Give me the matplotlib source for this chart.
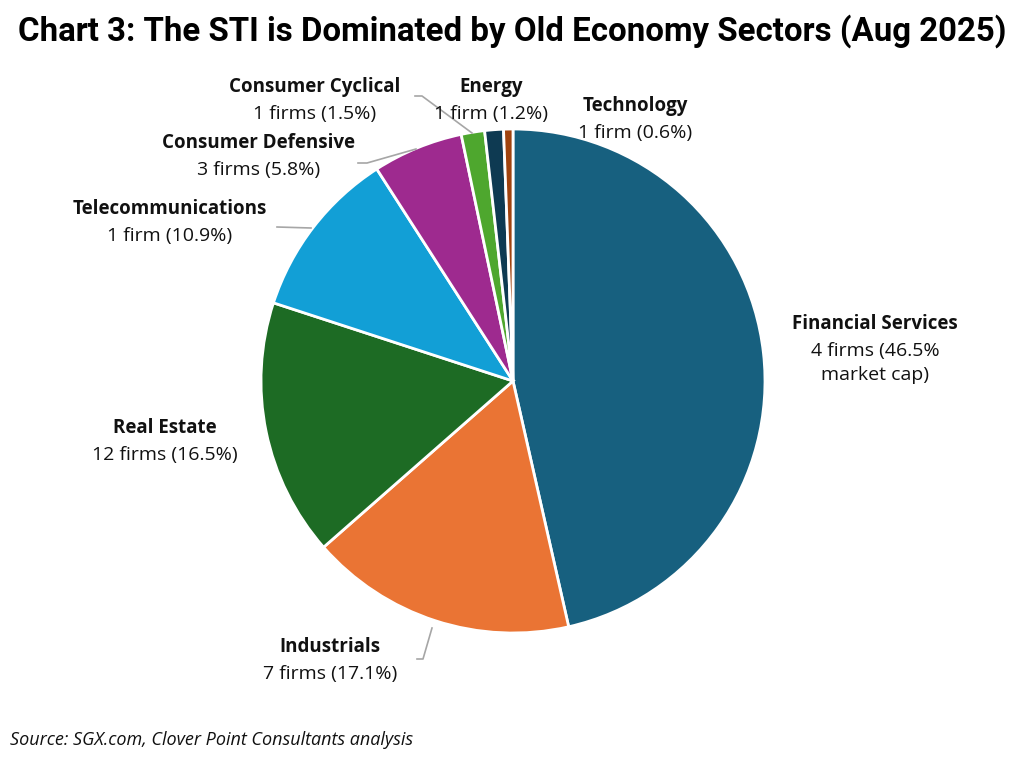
import matplotlib
matplotlib.use("Agg")
import matplotlib.pyplot as plt

sectors = ["Financial Services", "Industrials", "Real Estate", "Telecommunications",
           "Consumer Defensive", "Consumer Cyclical", "Energy", "Technology"]
shares = [46.5, 17.1, 16.5, 10.9, 5.8, 1.5, 1.2, 0.6]
firm_labels = ["4 firms (46.5%\nmarket cap)", "7 firms (17.1%)", "12 firms (16.5%)",
               "1 firm (10.9%)", "3 firms (5.8%)", "1 firms (1.5%)", "1 firm (1.2%)",
               "1 firm (0.6%)"]
colors = ["#17607F", "#EA7434", "#1D6B24", "#129FD6", "#9E2A8F", "#4EA72E", "#0E3A52", "#A0430E"]
title = "Chart 3: The STI is Dominated by Old Economy Sectors (Aug 2025)"
source = "Source: SGX.com, Clover Point Consultants analysis"

W, H = 1024, 762
fig = plt.figure(figsize=(W / 100, H / 100), dpi=100)
ax = fig.add_axes([0, 0, 1, 1])

cx, cy, R = 513, H - 381, 252
ax.pie(shares, colors=colors, startangle=90, counterclock=False, center=(cx, cy), radius=R,
       wedgeprops=dict(edgecolor="white", linewidth=2))
ax.set_xlim(0, W)
ax.set_ylim(0, H)
ax.set_aspect("equal")
ax.axis("off")

fam = ["Open Sans", "DejaVu Sans"]
pos = {
    "Financial Services": (875, 324),
    "Industrials": (330, 647),
    "Real Estate": (165, 428),
    "Telecommunications": (170, 209),
    "Consumer Defensive": (259, 143),
    "Consumer Cyclical": (315, 87),
    "Energy": (491, 87),
    "Technology": (635, 106),
}
for name, sub in zip(sectors, firm_labels):
    x, y = pos[name]
    ax.text(x, H - y, name, ha="center", va="center", fontsize=13.5, fontweight="bold",
            family=fam, color="#111111")
    ax.text(x, H - y - 18, sub, ha="center", va="top", fontsize=14, family=fam,
            color="#111111", linespacing=1.45)

lc = "#A6A6A6"
ax.plot([415, 422, 472], [H - 96, H - 96, H - 133], color=lc, lw=1.2)
ax.plot([358, 367, 416], [H - 163, H - 163, H - 149], color=lc, lw=1.2)
ax.plot([277, 311], [H - 227, H - 228], color=lc, lw=1.2)
ax.plot([417, 423, 432], [H - 659, H - 659, H - 628], color=lc, lw=1.2)

t = fig.text(18 / W, 1 - 31 / H, title, ha="left", va="center", fontsize=22,
             fontweight="bold", family=["Roboto", "DejaVu Sans"], color="black")
fig.canvas.draw()
w = t.get_window_extent().width
t.set_fontsize(22 * 987 / w)

fig.text(10 / W, 1 - 740 / H, source, ha="left", va="center", fontsize=13,
         style="italic", family=fam, color="#111111")

fig.savefig("out.png", dpi=100)
